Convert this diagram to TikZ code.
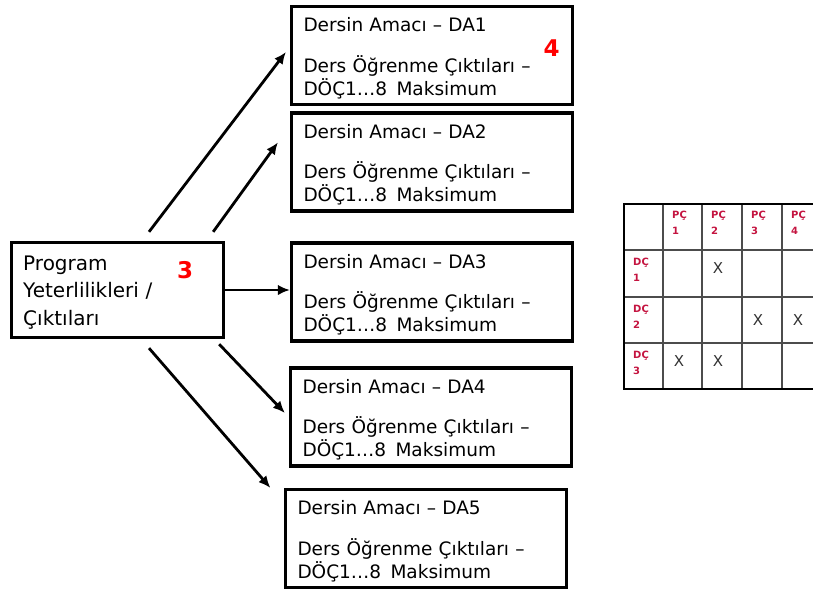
\documentclass[tikz,border=0pt]{standalone}
\usepackage{fontspec}
\setmainfont{DejaVu Sans}
\usepackage{tikz}
\usetikzlibrary{arrows.meta}
\usepackage{xcolor}
\definecolor{pcred}{RGB}{196,20,64}
\newcommand{\datext}[1]{\rule{0pt}{19.5pt}Dersin Amacı – DA#1\\[17.2pt]Ders Öğrenme Çıktıları –\\DÖÇ1…8\enspace Maksimum}

\begin{document}
\begin{tikzpicture}[x=1pt,y=-1pt,
  dabox/.style={draw,line width=3.2pt,minimum width=281pt,minimum height=98pt,
    text width=257pt,align=left,inner sep=0pt,
    font=\fontsize{18.5}{23.3}\selectfont},
  progbox/.style={draw,line width=2.8pt,minimum width=212.5pt,minimum height=95.5pt,
    text width=188.5pt,align=left,inner sep=0pt,
    font=\fontsize{20}{27.5}\selectfont},
  num/.style={text=red,font=\fontsize{23}{23}\bfseries\selectfont,inner sep=0pt},
  arr/.style={line width=2.8pt,-{Latex[length=12pt,width=10.5pt]}},
  pclabel/.style={text=pcred,font=\fontsize{10}{16}\bfseries\selectfont,
    align=left,anchor=north west,inner sep=0pt},
  xmark/.style={text=black!80,font=\fontsize{15}{15}\selectfont,inner sep=0pt},
  gridline/.style={line width=1.3pt,black!70}]
  \useasboundingbox (0,0) rectangle (813,590);
  \clip (0,0) rectangle (813,590);

  % program box
  \node[progbox] (prog) at (117.5,290) {\rule{0pt}{19.8pt}Program\\Yeterlilikleri /\\Çıktıları};
  \node[num] (num3) at (185,270.5) {3};

  % course aims
  \node[dabox] (da1) at (432,55.5) {\datext{1}};
  \node[dabox] (da2) at (432,162) {\datext{2}};
  \node[dabox] (da3) at (432,292) {\datext{3}};
  \node[dabox] (da4) at (431,417) {\datext{4}};
  \node[dabox] (da5) at (426,538.5) {\datext{5}};
  \node[num] (num4) at (551.5,48.5) {4};

  \draw[arr] ([xshift=31.5pt,yshift=9pt]prog.north) -- ([xshift=-4pt,yshift=3.5pt]da1.west);
  \draw[arr] ([xshift=-12pt,yshift=9pt]prog.north east) -- ([xshift=-12pt,yshift=-31pt]da2.north west);
  \draw[arr] (prog.east) -- (prog.east -| da3.west);
  \draw[arr] ([xshift=-6pt,yshift=-5pt]prog.south east) -- ([xshift=-4pt,yshift=4pt]da4.west);
  \draw[arr] ([xshift=31.5pt,yshift=-9pt]prog.south) -- ([xshift=-13.5pt]da5.north west);

  % matrix
  \foreach \x in {663,702,742,782}
    \draw[gridline] (\x,204) -- (\x,389);
  \foreach \y in {250,297,343}
    \draw[gridline] (624,\y) -- (822,\y);
  \draw[line width=2.4pt] (624,204) rectangle (822,389);
  \foreach \i/\x in {1/663,2/702,3/742,4/782}
    \node[pclabel] (pc\i) at (\x+9,211) {PÇ\\\i};
  \foreach \j/\y in {1/250,2/297,3/343}
    \node[pclabel] (dc\j) at (633,\y+8) {DÇ\\\j};
  \foreach \p [count=\k] in {(718,268.5),(758,320),(798,320),(679,361.5),(718,361.5)}
    \node[xmark] (x\k) at \p {X};
\end{tikzpicture}
\end{document}
